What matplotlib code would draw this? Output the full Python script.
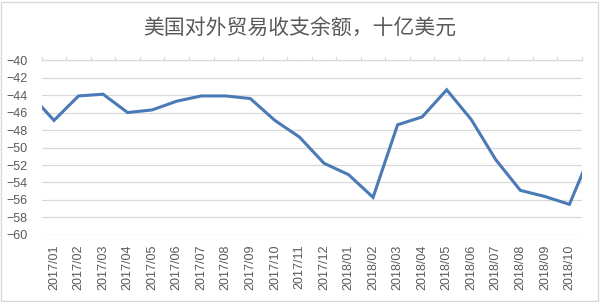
import numpy as np
import matplotlib.pyplot as plt
from matplotlib.patches import Rectangle

# Categories shown on the axis
labels = ["2017/01", "2017/02", "2017/03", "2017/04", "2017/05", "2017/06",
          "2017/07", "2017/08", "2017/09", "2017/10", "2017/11", "2017/12",
          "2018/01", "2018/02", "2018/03", "2018/04", "2018/05", "2018/06",
          "2018/07", "2018/08", "2018/09", "2018/10"]
values = [-46.9, -44.1, -43.9, -46.0, -45.7, -44.7, -44.1, -44.1, -44.4,
          -46.9, -48.8, -51.8, -53.1, -55.7, -47.4, -46.5, -43.4, -46.8,
          -51.4, -54.9, -55.6, -56.5]
# neighbouring months, cut off by the plot edges
value_before = -43.8
value_after = -49.8

title = "美国对外贸易收支余额，十亿美元"

plt.rcParams['font.family'] = ['Liberation Sans', 'DejaVu Sans']

fig = plt.figure(figsize=(6.0, 3.02), dpi=100)
fig.patches.append(Rectangle((0.002, 0.004), 0.994, 0.99, transform=fig.transFigure,
                             fill=False, edgecolor="#d9d9d9", linewidth=1.0))
ax = fig.add_axes([0.0695, 0.222, 0.9, 0.579])

x = np.arange(-1, len(labels) + 1)
y = [value_before] + values + [value_after]
ax.plot(x, y, color="#4a7ab5", linewidth=2.2, solid_joinstyle="miter", clip_on=True)

ax.set_xlim(-0.5, len(labels) - 0.5)
ax.set_ylim(-60, -40)
ax.set_yticks(np.arange(-60, -39, 2))
ax.yaxis.grid(True, color="#d9d9d9", linewidth=0.9)
ax.set_axisbelow(True)

ax.set_xticks(np.arange(len(labels)))
ax.set_xticklabels(labels, rotation=90, fontsize=9, color="#595959")
ax.tick_params(axis="x", length=0, pad=7)
ax.tick_params(axis="y", length=0, pad=10, labelsize=9, labelcolor="#595959")

# category boundary marks along the top axis line
for b in np.arange(-0.5, len(labels), 1.0):
    ax.plot([b, b], [-40, -39.6], color="#d9d9d9", linewidth=0.9, clip_on=False)

for s in ["left", "right", "bottom"]:
    ax.spines[s].set_visible(False)
ax.spines["top"].set_color("#d9d9d9")
ax.spines["top"].set_linewidth(0.9)

fig.text(0.5, 0.905, title, ha="center", va="center", fontsize=15, color="#595959",
         family=["Noto Sans CJK SC", "DejaVu Sans"])

fig.savefig("out.png", dpi=100)
